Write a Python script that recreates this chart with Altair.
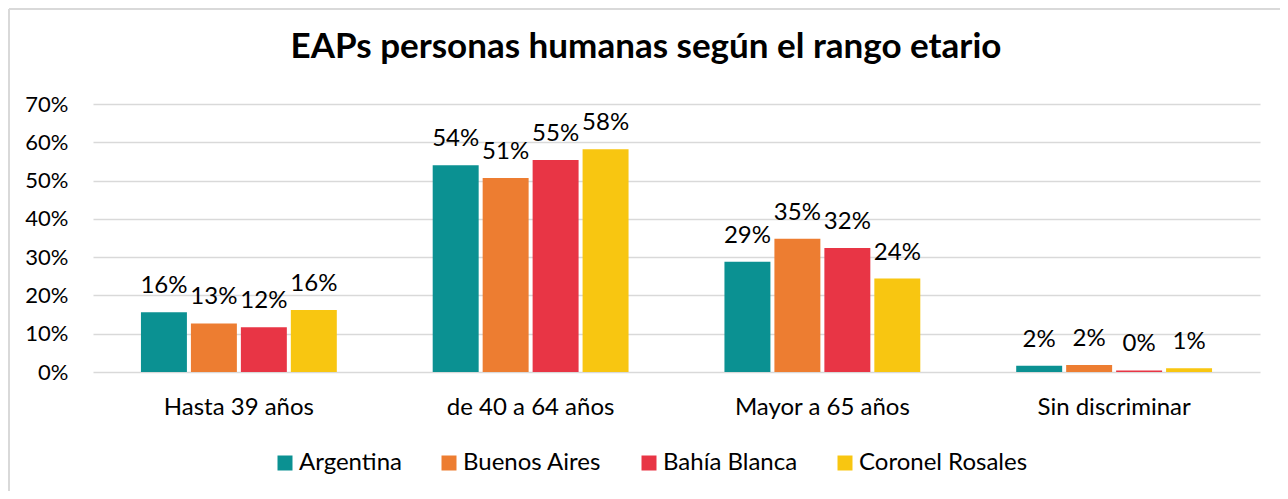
import altair as alt
import pandas as pd

categories = ["Hasta 39 años", "de 40 a 64 años", "Mayor a 65 años", "Sin discriminar"]
series = ["Argentina", "Buenos Aires", "Bahía Blanca", "Coronel Rosales"]
argentina = [0.156, 0.540, 0.288, 0.016]
buenos_aires = [0.127, 0.507, 0.348, 0.018]
bahia_blanca = [0.117, 0.554, 0.324, 0.004]
coronel_rosales = [0.162, 0.582, 0.244, 0.010]
colors = ["#0B9192", "#ED7D31", "#E83545", "#F8C611"]
title_text = ["EAPs personas humanas según el rango etario"]
y_ticks = [0, 0.1, 0.2, 0.3, 0.4, 0.5, 0.6, 0.7]

rows = []
for s, vals in zip(series, [argentina, buenos_aires, bahia_blanca, coronel_rosales]):
    for c, v in zip(categories, vals):
        rows.append({"cat": c, "serie": s, "val": v})
df = pd.DataFrame(rows)

FONT = "Lato"
W, H = 1167, 268

y_axis = alt.Axis(format=".0%", values=y_ticks, labelOverlap=False,
                  labelFontSize=22, labelFont=FONT, labelColor="#000",
                  ticks=False, domain=False, gridColor="#D9D9D9", gridWidth=1.5,
                  labelPadding=25)
y_enc = alt.Y("val:Q", title=None, scale=alt.Scale(domain=[0, 0.7]), axis=y_axis)

base = alt.Chart(df).encode(
    x=alt.X("cat:N", sort=categories, title=None,
            scale=alt.Scale(paddingInner=0.315, paddingOuter=0.1575),
            axis=alt.Axis(labelAngle=0, labelFontSize=24, labelFont=FONT, labelColor="#000",
                          ticks=False, domain=False, labelPadding=23)),
    xOffset=alt.XOffset("serie:N", sort=series,
                        scale=alt.Scale(paddingInner=0.08, paddingOuter=0.04)),
    y=y_enc,
)

bars = base.mark_bar().encode(
    color=alt.Color("serie:N", sort=series,
                    scale=alt.Scale(domain=series, range=colors),
                    legend=alt.Legend(title=None, orient="none", direction="horizontal",
                                      legendX=180, legendY=347,
                                      symbolType="square", symbolSize=225, symbolStrokeWidth=0,
                                      labelFont=FONT, labelFontSize=24, labelColor="#000",
                                      labelLimit=0, columnPadding=35, labelOffset=2)),
)

labels = base.mark_text(baseline="bottom", dy=-14, fontSize=24, font=FONT, color="#000").encode(
    text=alt.Text("val:Q", format=".0%"),
)

title = alt.Chart(pd.DataFrame({"t": title_text})).mark_text(
    font=FONT, fontSize=35, fontWeight="bold", color="#000", baseline="alphabetic", align="center"
).encode(text="t:N", x=alt.value(553), y=alt.value(-46))

border = alt.Chart(pd.DataFrame({"a": [0]})).mark_rule(color="#D9D9D9", strokeWidth=2).encode(
    x=alt.value(-84), x2=alt.value(W + 30), y=alt.value(-95), y2=alt.value(-95)
)
border2 = alt.Chart(pd.DataFrame({"a": [0]})).mark_rule(color="#D9D9D9", strokeWidth=2).encode(
    x=alt.value(-84), x2=alt.value(-84), y=alt.value(-95), y2=alt.value(H + 130)
)

chart = alt.layer(bars, labels, title, border, border2).properties(
    width=W, height=H,
    autosize=alt.AutoSizeParams(type="none"),
    padding={"left": 85, "top": 96, "right": 20, "bottom": 119},
).configure_view(stroke=None)

chart.save("out.html", embed_options={"renderer": "svg", "actions": False})
